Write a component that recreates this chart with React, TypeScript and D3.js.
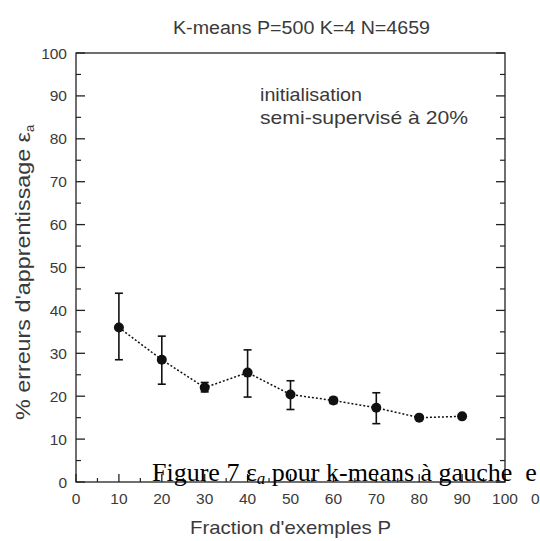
import React from 'react';
import * as d3 from 'd3';

// fraction of training examples P (%) and training error (%)
const fractions = [10, 20, 30, 40, 50, 60, 70, 80, 90];
const errMean = [36, 28.5, 22, 25.5, 20.4, 19, 17.3, 15, 15.3];
const errLow = [28.5, 22.8, 21, 19.8, 16.9, 18.3, 13.6, 15, 15.3];
const errHigh = [44, 34, 23.2, 30.8, 23.6, 19.7, 20.8, 15, 15.3];

const xTicks = [0, 10, 20, 30, 40, 50, 60, 70, 80, 90, 100];
const yTicks = [0, 10, 20, 30, 40, 50, 60, 70, 80, 90, 100];
const minorTicks = [5, 15, 25, 35, 45, 55, 65, 75, 85, 95];

const W = 540;
const H = 541;
const m = { left: 76, right: 505, top: 53, bottom: 482 };

const txt = '#3a3a3a';
const sans = 'Arial, "Liberation Sans", Helvetica, sans-serif';
const serif = '"Times New Roman", "Liberation Serif", serif';

export default function App() {
	const x = d3.scaleLinear().domain([0, 100]).range([m.left, m.right]);
	const y = d3.scaleLinear().domain([0, 100]).range([m.bottom, m.top]);

	const pts = fractions.map((f, i) => ({ f, v: errMean[i], lo: errLow[i], hi: errHigh[i] }));
	const line = d3
		.line<any>()
		.x((d) => x(d.f))
		.y((d) => y(d.v))(pts);

	return (
		<svg
			width={W}
			height={H}
			style={{ position: 'absolute', left: 0, top: 0, background: '#fff' }}
			fontFamily={sans}>
			{/* title */}
			<text x={173} y={34} fontSize={18} fill={txt} textLength={257} lengthAdjust="spacingAndGlyphs">
				K-means P=500 K=4 N=4659
			</text>

			{/* frame */}
			<rect
				x={m.left}
				y={m.top}
				width={m.right - m.left}
				height={m.bottom - m.top}
				fill="none"
				stroke="#222"
				strokeWidth={1.3}
			/>

			{/* y ticks, left and right, inward */}
			{yTicks.map((t) => (
				<g key={'y' + t}>
					<line x1={m.left} x2={m.left + 9} y1={y(t)} y2={y(t)} stroke="#222" strokeWidth={1.3} />
					<line x1={m.right} x2={m.right - 9} y1={y(t)} y2={y(t)} stroke="#222" strokeWidth={1.3} />
					<text x={m.left - 9} y={y(t) + 5.5} fontSize={15.5} fill={txt} textAnchor="end">
						{t}
					</text>
				</g>
			))}
			{minorTicks.map((t) => (
				<g key={'ym' + t}>
					<line x1={m.left} x2={m.left + 5} y1={y(t)} y2={y(t)} stroke="#222" strokeWidth={1.2} />
					<line x1={m.right} x2={m.right - 5} y1={y(t)} y2={y(t)} stroke="#222" strokeWidth={1.2} />
				</g>
			))}

			{/* x ticks, inward */}
			{xTicks.map((t) => (
				<g key={'x' + t}>
					<line x1={x(t)} x2={x(t)} y1={m.bottom} y2={m.bottom - 8} stroke="#222" strokeWidth={1.3} />
					<text x={x(t)} y={m.bottom + 22} fontSize={15.5} fill={txt} textAnchor="middle">
						{t}
					</text>
				</g>
			))}
			{minorTicks.map((t) => (
				<line key={'xm' + t} x1={x(t)} x2={x(t)} y1={m.bottom} y2={m.bottom - 4} stroke="#222" strokeWidth={1.2} />
			))}

			{/* axis titles */}
			<text x={190} y={534} fontSize={19} fill={txt} textLength={201} lengthAdjust="spacingAndGlyphs">
				Fraction d'exemples P
			</text>
			<text transform={`translate(30, 420) rotate(-90)`} fontSize={20} fill={txt}>
				<tspan textLength={288} lengthAdjust="spacingAndGlyphs">% erreurs d'apprentissage ε</tspan>
				<tspan fontSize={13} dy={4}>a</tspan>
			</text>

			{/* annotation */}
			<text x={260} y={101} fontSize={19} fill={txt} textLength={102} lengthAdjust="spacingAndGlyphs">
				initialisation
			</text>
			<text x={260} y={124} fontSize={19} fill={txt} textLength={208} lengthAdjust="spacingAndGlyphs">
				semi-supervisé à 20%
			</text>

			{/* data */}
			<path d={line || ''} fill="none" stroke="#111" strokeWidth={1.5} strokeDasharray="2 2" />
			{pts.map((d) =>
				d.hi - d.lo > 0.5 ? (
					<g key={'e' + d.f} stroke="#111" strokeWidth={1.6}>
						<line x1={x(d.f)} x2={x(d.f)} y1={y(d.lo)} y2={y(d.hi)} />
						<line x1={x(d.f) - 4} x2={x(d.f) + 4} y1={y(d.lo)} y2={y(d.lo)} />
						<line x1={x(d.f) - 4} x2={x(d.f) + 4} y1={y(d.hi)} y2={y(d.hi)} />
					</g>
				) : null
			)}
			{pts.map((d) => (
				<circle key={'p' + d.f} cx={x(d.f)} cy={y(d.v)} r={5} fill="#111" />
			))}

			{/* caption overlapping from the page */}
			<text x={152} y={481} fontSize={26} fill="#000" fontFamily={serif}>
				Figure 7 ε<tspan fontSize={17} fontStyle="italic" dy={3}>a</tspan>
				<tspan dy={-3}>{' pour k-means à gauche\u00a0\u00a0e'}</tspan>
			</text>
			<text x={531} y={504} fontSize={15.5} fill={txt}>
				0
			</text>
		</svg>
	);
}
